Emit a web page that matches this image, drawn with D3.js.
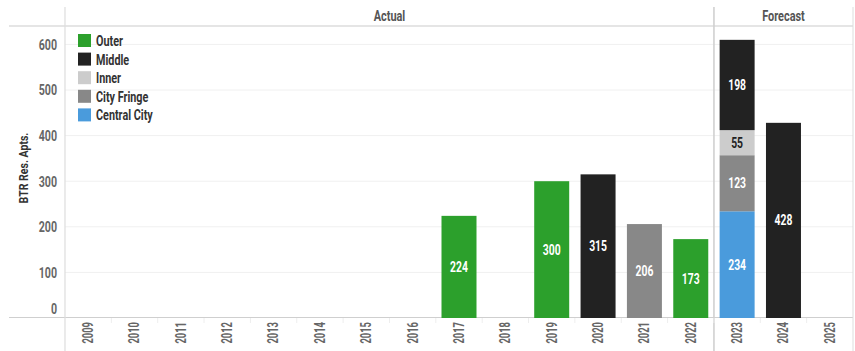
<!DOCTYPE html>
<html><head><meta charset="utf-8">
<script src="https://cdn.jsdelivr.net/npm/d3@7"></script>
<style>
body{margin:0;background:#fff;}
svg text{font-family:Roboto,"DejaVu Sans",sans-serif;font-weight:bold;}
</style></head>
<body><svg id="c" width="855" height="351"></svg>
<script>
const years = ["2009","2010","2011","2012","2013","2014","2015","2016","2017","2018","2019","2020","2021","2022","2023","2024","2025"];
const seriesNames = ["Central City","City Fringe","Inner","Middle","Outer"];
const legendOrder = ["Outer","Middle","Inner","City Fringe","Central City"];
const colors = ["#4a9bdc","#888888","#cccccc","#222222","#2ca02c"];
const centralCity = [0,0,0,0,0,0,0,0,0,0,0,0,0,0,234,0,0];
const cityFringe  = [0,0,0,0,0,0,0,0,0,0,0,0,206,0,123,0,0];
const inner       = [0,0,0,0,0,0,0,0,0,0,0,0,0,0,55,0,0];
const middle      = [0,0,0,0,0,0,0,0,0,0,0,315,0,0,198,428,0];
const outer       = [0,0,0,0,0,0,0,0,224,0,300,0,0,173,0,0,0];
const yTicks = [0,100,200,300,400,500,600];
const sections = [{name:"Actual",from:"2009",to:"2022"},{name:"Forecast",from:"2023",to:"2025"}];

function squeeze(sel, f){
  sel.each(function(){
    const w = this.getComputedTextLength();
    if(w>0){ this.setAttribute("textLength", w*f); this.setAttribute("lengthAdjust","spacingAndGlyphs"); }
  });
}

const rows = years.map((y,i)=>({year:y,"Central City":centralCity[i],"City Fringe":cityFringe[i],"Inner":inner[i],"Middle":middle[i],"Outer":outer[i]}));
const svg = d3.select("#c");
const L=65,R=853,T=26,B=318;
const x = d3.scaleBand().domain(years).range([L,R]).paddingInner(0.245).paddingOuter(0.1225);
const xb = d3.scaleBand().domain(years).range([L,R]);
const y = d3.scaleLinear().domain([0,600]).range([B,44.4]);
const color = d3.scaleOrdinal().domain(seriesNames).range(colors);

// gridlines
svg.append("g").selectAll("line").data(yTicks.filter(d=>d>0)).join("line")
  .attr("x1",L).attr("x2",R).attr("y1",d=>y(d)).attr("y2",d=>y(d))
  .attr("stroke","#f0f0f0").attr("stroke-width",1);

// frame lines
svg.append("line").attr("x1",9).attr("x2",R).attr("y1",T).attr("y2",T).attr("stroke","#dddddd").attr("stroke-width",1.5);
svg.append("line").attr("x1",9).attr("x2",R).attr("y1",B-0.5).attr("y2",B-0.5).attr("stroke","#cfcfcf").attr("stroke-width",1);
svg.append("line").attr("x1",L).attr("x2",L).attr("y1",7).attr("y2",351).attr("stroke","#dddddd").attr("stroke-width",1.2);
// section separators and headers
sections.forEach((s,i)=>{
  const x0 = xb(s.from), x1 = xb(s.to)+xb.bandwidth();
  if(i>0) svg.append("line").attr("x1",x0).attr("x2",x0).attr("y1",7).attr("y2",351).attr("stroke","#cccccc").attr("stroke-width",1.2);
  svg.append("line").attr("x1",x1).attr("x2",x1).attr("y1",7).attr("y2",351).attr("stroke","#dddddd").attr("stroke-width",1);
  svg.append("text").attr("class","hdr").attr("x",(x0+x1)/2).attr("y",21).attr("text-anchor","middle")
    .attr("font-size",14).attr("fill","#555").text(s.name);
});
squeeze(svg.selectAll("text.hdr"),0.78);
// small tick separators below axis
svg.append("g").selectAll("line").data(years.slice(1)).join("line")
  .attr("x1",d=>xb(d)).attr("x2",d=>xb(d)).attr("y1",B).attr("y2",B+5)
  .attr("stroke","#eeeeee");

// bars
const stack = d3.stack().keys(seriesNames)(rows);
const g = svg.append("g");
stack.forEach(layer=>{
  const key = layer.key;
  layer.forEach(d=>{
    const v = d[1]-d[0];
    if(v<=0) return;
    const yr = d.data.year;
    g.append("rect").attr("x",x(yr)).attr("width",x.bandwidth())
      .attr("y",y(d[1])).attr("height",y(d[0])-y(d[1]))
      .attr("fill",color(key));
    g.append("text").attr("class","val").attr("x",x(yr)+x.bandwidth()/2).attr("y",(y(d[0])+y(d[1]))/2+5)
      .attr("text-anchor","middle").attr("font-size",15)
      .attr("fill", key==="Inner" ? "#222" : "#fff").text(v);
  });
});
squeeze(g.selectAll("text.val"),0.69);

// y axis
const yAxis = svg.append("g").attr("transform",`translate(${L-8},0)`)
  .call(d3.axisLeft(y).tickValues(yTicks).tickSize(0).tickPadding(0));
yAxis.select(".domain").remove();
yAxis.selectAll("text").attr("font-size",14).attr("fill","#666")
  .attr("dy",d=>d===0?"-0.3em":"0.35em");
squeeze(yAxis.selectAll("text"),0.76);
const yt = svg.append("text").attr("transform","translate(28,168) rotate(-90)")
  .attr("text-anchor","middle").attr("font-size",13.5).attr("fill","#333").text("BTR Res. Apts.");
squeeze(yt,0.78);

// x axis
const xAxis = svg.append("g").attr("transform",`translate(0,${B})`)
  .call(d3.axisBottom(xb).tickSize(0));
xAxis.select(".domain").remove();
xAxis.selectAll("text").attr("transform","rotate(-90)").attr("text-anchor","end")
  .attr("x",-4).attr("y",0).attr("dy","0.35em").attr("font-size",14).attr("fill","#666");
squeeze(xAxis.selectAll("text"),0.67);

// legend
const lg = svg.append("g").attr("transform","translate(78,34)");
legendOrder.forEach((n,i)=>{
  const r = lg.append("g").attr("transform",`translate(0,${i*18.6})`);
  r.append("rect").attr("width",13).attr("height",13).attr("fill",color(n));
  r.append("text").attr("x",18).attr("y",12).attr("font-size",15).attr("fill","#333").text(n);
});
squeeze(lg.selectAll("text"),0.72);
</script></body></html>
